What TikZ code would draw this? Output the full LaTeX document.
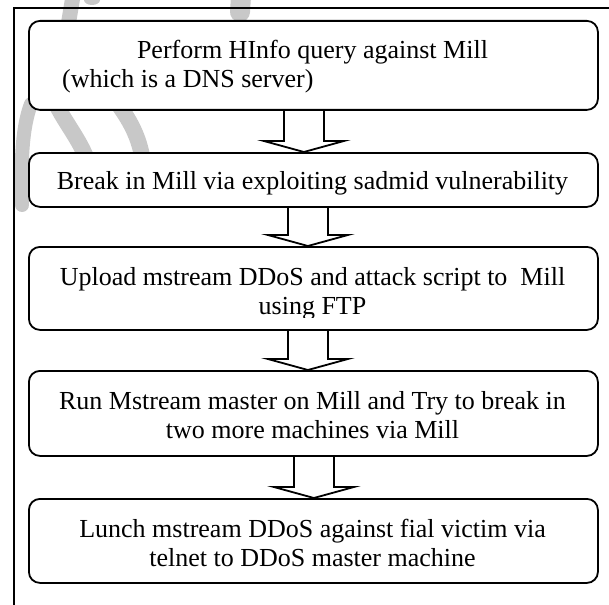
\documentclass[tikz,border=0pt]{standalone}
\usepackage{fontspec}
\setmainfont{Liberation Serif}
\usetikzlibrary{calc}
\newcommand\blockarr[3]{%
  \draw[arrline] let \p1=(#1.south), \p2=(#2.north) in
    (\x1+#3*1pt-20pt,\y1) -- (\x1+#3*1pt-20pt,\y2+11pt) -- (\x1+#3*1pt-40pt,\y2+11pt)
    -- (\x1+#3*1pt,\y2) -- (\x1+#3*1pt+40pt,\y2+11pt) -- (\x1+#3*1pt+20pt,\y2+11pt)
    -- (\x1+#3*1pt+20pt,\y1);}
\definecolor{wmgray}{RGB}{200,200,200}
\tikzset{
  box/.style={draw=black, line width=1.8pt, fill=white, rounded corners=11pt,
    minimum width=569pt, anchor=north west, inner sep=0pt},
  txt/.style={font=\fontsize{26}{29}\selectfont, inner sep=0pt, anchor=base},
  arrline/.style={draw=black, line width=1.8pt, line join=miter},
  framel/.style={draw=black, line width=1.8pt},
  wm/.style={draw=wmgray, line cap=round},
}
\begin{document}
\begin{tikzpicture}[x=1pt,y=-1pt]
\useasboundingbox (0,0) rectangle (609,604);
% watermark
\draw[wm, line width=15pt] (73,-4) .. controls (71,8) .. (68,26);
\fill[wmgray] (92,0) ellipse (8pt and 5pt);
\draw[wm, line width=20pt] (241,-4) -- (240,12);
\draw[wm, line width=14pt] (31,104) .. controls (21,130) and (21,170) .. (22,205);
\draw[wm, line width=16pt] (56,104) .. controls (66,124) and (80,140) .. (88,162);
\draw[wm, line width=16pt] (118,104) .. controls (128,118) and (138,134) .. (142,156);
% frame
\coordinate (fbl) at (14,605);
\coordinate (ftl) at (14,8);
\coordinate (ftr) at (610,8);
\draw[framel] (fbl) -- (ftl) -- (ftr);
% boxes
\node[box, minimum height=89pt] (b1) at (28,20) {};
\node[box, minimum height=54pt] (b2) at (28,152) {};
\node[box, minimum height=83pt] (b3) at (28,246) {};
\node[box, minimum height=85pt] (b4) at (28,370) {};
\node[box, minimum height=84pt] (b5) at (28,498) {};
% texts
\node[txt] (t1a) at (312.5,59) {Perform HInfo query against Mill};
\node[txt, anchor=base west] (t1b) at (62,88) {(which is a DNS server)};
\begin{scope}
  \clip (28,152) rectangle (597,194);
  \node[txt] (t2) at (312.5,189) {Break in Mill via exploiting sadmid vulnerability};
\end{scope}
\begin{scope}
  \clip (28,246) rectangle (597,317);
  \node[txt] (t3a) at (312.5,285) {Upload mstream DDoS and attack script to\ \ Mill};
  \node[txt] (t3b) at (312.5,314) {using FTP};
\end{scope}
\node[txt] (t4a) at (312.5,409) {Run Mstream master on Mill and Try to break in};
\node[txt] (t4b) at (312.5,438) {two more machines via Mill};
\node[txt] (t5a) at (312.5,537) {Lunch mstream DDoS against fial victim via};
\node[txt] (t5b) at (312.5,566) {telnet to DDoS master machine};
% block arrows
\blockarr{b1}{b2}{-9.5}
\blockarr{b2}{b3}{-5.5}
\blockarr{b3}{b4}{-5.5}
\blockarr{b4}{b5}{0.5}
\end{tikzpicture}
\end{document}
